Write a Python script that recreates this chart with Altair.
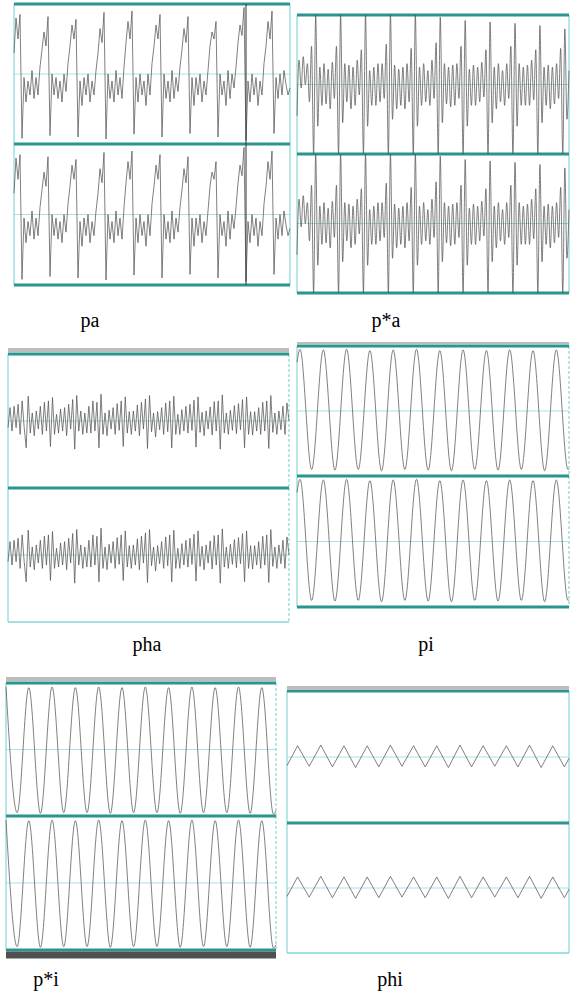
import altair as alt
import pandas as pd

# ---------------- data ----------------
# Each panel shows a stereo recording; both channels carry the same trace.
# pa : one sample every ~2 px, 10 glottal periods
pa_wave = [0.3, 0.8, 0.5, 0.85,
           -0.92, -0.05, -0.4, -0.1, -0.3, 0.05, -0.35, -0.05, -0.3, 0.1, 0.35, 0.6, 0.4, 0.82,
           -0.88, 0.0, -0.3, -0.05, -0.35, -0.1, -0.4, 0.0, -0.25, 0.15, 0.4, 0.7, 0.5, 0.78,
           -0.9, -0.1, -0.45, -0.05, -0.3, 0.0, -0.4, -0.1, -0.3, 0.05, 0.3, 0.65, 0.45, 0.88,
           -0.93, 0.0, -0.35, -0.1, -0.4, 0.05, -0.3, -0.05, -0.35, 0.1, 0.45, 0.75, 0.5, 0.9,
           -0.86, -0.05, -0.4, 0.0, -0.3, -0.1, -0.45, 0.0, -0.3, 0.15, 0.4, 0.7, 0.5, 0.85,
           -0.9, 0.0, -0.35, -0.1, -0.4, 0.05, -0.35, -0.05, -0.25, 0.1, 0.35, 0.65, 0.45, 0.82,
           -0.85, -0.05, -0.45, -0.05, -0.3, 0.0, -0.4, -0.1, -0.3, 0.05, 0.4, 0.6, 0.5, 0.75,
           -0.9, 0.0, -0.3, -0.1, -0.45, 0.05, -0.35, 0.0, -0.2, 0.1, 0.45, 0.7, 0.55, 0.95,
           -0.95, -0.1, -0.4, 0.0, -0.3, -0.05, -0.45, -0.1, -0.3, 0.15, 0.4, 0.75, 0.5, 0.9,
           -0.85, -0.05, -0.35, 0.0, -0.3, 0.05, -0.15, -0.3, -0.2]
pa_t = list(range(len(pa_wave)))
pa_cursor = [116]

# p*a : one sample every ~2 px, 11 periods with full-scale spikes
pstar_a_wave = [-0.45, 0.35, -0.05, 0.4, 0.0, 0.3, -0.25, 0.55,
                -1.0, 1.0, -0.6, 0.25, -0.3, 0.3, -0.28, 0.22, -0.35, 0.32, -0.2, 0.55,
                -1.0, 1.0, -0.55, 0.3, -0.25, 0.28, -0.35, 0.25, -0.3, 0.35, -0.15, 0.5,
                -1.0, 1.0, -0.6, 0.2, -0.3, 0.25, -0.3, 0.3, -0.25, 0.3, -0.2, 0.58,
                -1.0, 1.0, -0.5, 0.28, -0.35, 0.22, -0.3, 0.25, -0.35, 0.3, -0.25, 0.52,
                -1.0, 1.0, -0.6, 0.25, -0.3, 0.3, -0.25, 0.2, -0.3, 0.35, -0.2, 0.6,
                -1.0, 0.97, -0.55, 0.3, -0.28, 0.25, -0.32, 0.28, -0.3, 0.3, -0.2, 0.55,
                -1.0, 0.92, -0.6, 0.22, -0.3, 0.28, -0.3, 0.25, -0.25, 0.32, -0.18, 0.5,
                -1.0, 0.9, -0.55, 0.25, -0.35, 0.3, -0.25, 0.2, -0.3, 0.3, -0.2, 0.55,
                -1.0, 0.88, -0.6, 0.3, -0.3, 0.25, -0.3, 0.28, -0.3, 0.35, -0.22, 0.5,
                -1.0, 0.85, -0.55, 0.25, -0.3, 0.28, -0.35, 0.25, -0.28, 0.3, -0.2, 0.52,
                -1.0, 0.8, -0.5, 0.2]
pstar_a_t = list(range(len(pstar_a_wave)))

# pha : one sample every ~2 px, small amplitude
pha_wave = [-0.1, 0.2, -0.15, 0.22, -0.1, 0.25, -0.2, 0.3, -0.1,
            -0.4, 0.37, -0.18, 0.12, -0.22, 0.15, -0.12, 0.22, -0.2, 0.28, -0.15, 0.3,
            -0.38, 0.35, -0.2, 0.1, -0.18, 0.18, -0.15, 0.2, -0.22, 0.25, -0.12, 0.32,
            -0.42, 0.38, -0.15, 0.15, -0.2, 0.12, -0.18, 0.22, -0.18, 0.3, -0.15, 0.28,
            -0.4, 0.4, -0.2, 0.12, -0.22, 0.16, -0.12, 0.2, -0.2, 0.26, -0.14, 0.3,
            -0.38, 0.36, -0.18, 0.14, -0.2, 0.15, -0.15, 0.24, -0.22, 0.28, -0.12, 0.33,
            -0.41, 0.38, -0.16, 0.12, -0.24, 0.14, -0.13, 0.2, -0.2, 0.27, -0.16, 0.3,
            -0.4, 0.37, -0.2, 0.1, -0.2, 0.17, -0.15, 0.22, -0.18, 0.25, -0.14, 0.31,
            -0.39, 0.36, -0.17, 0.13, -0.22, 0.15, -0.12, 0.21, -0.21, 0.29, -0.15, 0.3,
            -0.42, 0.39, -0.18, 0.12, -0.2, 0.16, -0.14, 0.23, -0.19, 0.26, -0.13, 0.32,
            -0.4, 0.36, -0.2, 0.14, -0.21, 0.14, -0.15, 0.2, -0.2, 0.28, -0.15, 0.3,
            -0.41, 0.38, -0.17, 0.12, -0.2, 0.15, -0.13, 0.22, -0.2, 0.27, 0.0]
pha_t = list(range(len(pha_wave)))

# pi, p*i, phi : successive extremes (one per half period) plus the value at each edge
pi_t = [0.742] + list(range(1, 25)) + [24.09]
pi_wave = [0.75, 0.95, -0.9, 0.94, -0.91, 0.95, -0.9, 0.93, -0.92, 0.94, -0.9, 0.95, -0.91,
           0.93, -0.92, 0.94, -0.9, 0.93, -0.91, 0.94, -0.9, 0.93, -0.92, 0.94, -0.9, -0.89]
pstar_i_t = [0.043] + list(range(1, 24)) + [23.22]
pstar_i_wave = [0.94, -0.95, 0.93, -0.96, 0.94, -0.95, 0.93, -0.95, 0.94, -0.96, 0.93, -0.95, 0.94,
                -0.95, 0.93, -0.96, 0.94, -0.95, 0.93, -0.95, 0.94, -0.96, 0.93, -0.97, -0.92]
phi_t = [0.086] + list(range(1, 25)) + [24.4]
phi_wave = [-0.13, 0.17, -0.14, 0.18, -0.15, 0.17, -0.16, 0.17, -0.15, 0.18, -0.14, 0.17, -0.15,
            0.17, -0.16, 0.18, -0.15, 0.17, -0.14, 0.17, -0.15, 0.18, -0.16, 0.17, -0.15, -0.02]

panel_labels = ["pa", "p*a", "pha", "pi", "p*i", "phi"]

# channel reference levels: centre line and full-scale edges
center_level = [0]
full_top = [1]
full_bottom = [-1]

# ---------------- styling ----------------
TEAL = "#2a958e"
EDGE = "#72cfd0"
CENTER = "#a6e3e5"
WAVE = "#555555"
GRAYBAR = "#bdbdbd"
DARKBAR = "#505050"
LIGHTLINE = "#80d6d6"
FONT = "Liberation Serif"


def label(text, dx, offset):
    return alt.TitleParams(text, orient="bottom", anchor="start", frame="group", align="center",
                           baseline="alphabetic", dx=dx, offset=offset, font=FONT, fontSize=20,
                           fontWeight="normal", color="black")


def panel(t, values, interp, W, H, L, R, a, m, b, lab, dx, base,
          gray=None, bottom=(TEAL, 3), dark=False, right_dash=None, cursor=None):
    """Panel plot covers a W x H band; the two channels sit in [L,R] x [a,m] and [L,R] x [m,b]."""
    xL, xR = t[0], t[-1]
    sx = (xR - xL) / (R - L)
    xs = alt.Scale(domain=[xL - L * sx, xR + (W - R) * sx], nice=False, zero=False)
    st = 2 / (m - a)
    hi_t = 1 + a * st
    sb = 2 / (b - m)
    hi_b = 1 + m * sb
    top_s = alt.Scale(domain=[hi_t - H * st, hi_t], nice=False, zero=False)
    bot_s = alt.Scale(domain=[hi_b - H * sb, hi_b], nice=False, zero=False)

    df = pd.DataFrame({"t": t, "v": values})

    def hline(levels, sc, color, width, yoff=0):
        d = pd.DataFrame({"x0": [xL] * len(levels), "x1": [xR] * len(levels), "lev": levels})
        kw = dict(color=color, strokeWidth=width)
        if yoff:
            kw["yOffset"] = yoff
        return alt.Chart(d).mark_rule(**kw).encode(
            x=alt.X("x0:Q", scale=xs, axis=None), x2="x1:Q",
            y=alt.Y("lev:Q", scale=sc, axis=None))

    def vline(xpos, sc, color, dash=None):
        d = pd.DataFrame({"e": xpos, "hi": full_top * len(xpos), "lo": full_bottom * len(xpos)})
        kw = dict(color=color, strokeWidth=1)
        if dash:
            kw["strokeDash"] = dash
        return alt.Chart(d).mark_rule(**kw).encode(
            x=alt.X("e:Q", scale=xs, axis=None),
            y=alt.Y("hi:Q", scale=sc, axis=None), y2="lo:Q")

    layers = []
    for sc in (top_s, bot_s):
        layers.append(hline(center_level, sc, CENTER, 1))
        layers.append(vline([xL], sc, EDGE))
        layers.append(vline([xR], sc, EDGE, right_dash))
    layers.append(hline(full_top + full_bottom, top_s, TEAL, 3))
    layers.append(hline(full_bottom, bot_s, bottom[0], bottom[1]))
    if gray:
        layers.append(hline(full_top, top_s, GRAYBAR, gray[1], yoff=-gray[0]))
    if dark:
        layers.append(hline(full_bottom, bot_s, DARKBAR, 7, yoff=5))
    for sc in (top_s, bot_s):
        layers.append(alt.Chart(df).mark_line(color=WAVE, strokeWidth=0.75, interpolate=interp,
                                              clip=True).encode(
            x=alt.X("t:Q", scale=xs, axis=None),
            y=alt.Y("v:Q", scale=sc, axis=None)))
        if cursor:
            layers.append(vline(cursor, sc, "#333333"))
    return alt.layer(*layers).resolve_scale(y="independent").properties(
        width=W, height=H, title=label(lab, dx, base - H))


# row bands: y 0-336, 336-664, 664-996 ; positions below are relative to each band
p_pa = panel(pa_t, pa_wave, "linear", 293, 336, 14, 290, 4, 144, 285,
             panel_labels[0], 90, 327, cursor=pa_cursor)
p_pstar_a = panel(pstar_a_t, pstar_a_wave, "monotone", 278, 336, 4, 276, 15, 154, 293,
                  panel_labels[1], 93, 327)
p_pha = panel(pha_t, pha_wave, "linear", 293, 328, 8, 289, 18, 152, 286,
              panel_labels[2], 147, 315, gray=(4, 4), bottom=(LIGHTLINE, 1.5), right_dash=[3, 2])
p_pi = panel(pi_t, pi_wave, "monotone", 278, 328, 4, 276, 10, 140, 271,
             panel_labels[3], 133, 315, gray=(3, 2), right_dash=[3, 2])
p_pstar_i = panel(pstar_i_t, pstar_i_wave, "monotone", 282, 332, 6, 276, 19, 152, 286,
                  panel_labels[4], 46, 322, gray=(4, 4), dark=True, right_dash=[3, 2])
p_phi = panel(phi_t, phi_wave, "linear", 289, 332, 5, 287, 27, 159, 289,
              panel_labels[5], 108, 322, gray=(3, 4), bottom=(LIGHTLINE, 1.5))

row1 = alt.hconcat(p_pa, p_pstar_a, spacing=0)
row2 = alt.hconcat(p_pha, p_pi, spacing=0)
row3 = alt.hconcat(p_pstar_i, p_phi, spacing=0)

chart = alt.vconcat(row1, row2, row3, spacing=0).properties(
    padding=0, background="white"
).configure_view(stroke=None)

chart.save("out.html", embed_options={"renderer": "svg", "actions": False})
